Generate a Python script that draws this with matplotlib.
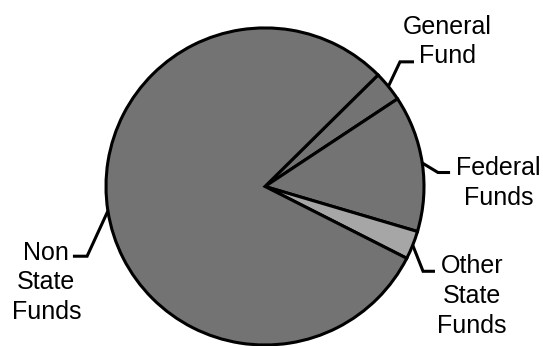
import numpy as np
import matplotlib.pyplot as plt

plt.rcParams['font.family'] = ['Liberation Sans', 'DejaVu Sans']

# udzialy poszczegolnych zrodel (%)
labels = ['General\nFund', 'Federal\nFunds', 'Other\nState\nFunds', 'Non\nState\nFunds']
values = [3.1, 13.9, 2.9, 80.1]
colors = ['#737373', '#737373', '#a6a6a6', '#737373']

# polozenie etykiet: zalamanie linii, koniec linii, srodek tekstu
elbows = [(0.849, 0.786), (1.088, 0.088), (0.994, -0.535), (-1.119, -0.44)]
ends = [(0.937, 0.786), (1.164, 0.088), (1.069, -0.535), (-1.208, -0.44)]
text_pos = [(1.145, 0.915), (1.47, 0.02), (1.30, -0.692), (-1.375, -0.604)]

fig = plt.figure(figsize=(5.43, 3.46), dpi=100)
ax = fig.add_axes([0, 0, 1, 1])

wedges, _ = ax.pie(values, colors=colors, startangle=44.7, counterclock=False,
                   wedgeprops=dict(edgecolor='black', linewidth=2.2))

for w, lab, el, en, tp in zip(wedges, labels, elbows, ends, text_pos):
    mid = np.deg2rad((w.theta1 + w.theta2) / 2)
    x0, y0 = np.cos(mid), np.sin(mid)
    ax.plot([x0, el[0], en[0]], [y0, el[1], en[1]], color='black', lw=2.2,
            solid_capstyle='butt', solid_joinstyle='miter')
    ax.text(tp[0], tp[1], lab, ha='center', va='center', fontsize=18,
            linespacing=1.3)

ax.set_xlim(-265 / 159, 278 / 159)
ax.set_ylim(-160 / 159, 187 / 159)
ax.set_aspect('auto')
ax.axis('off')

fig.savefig('out.png', dpi=100)
